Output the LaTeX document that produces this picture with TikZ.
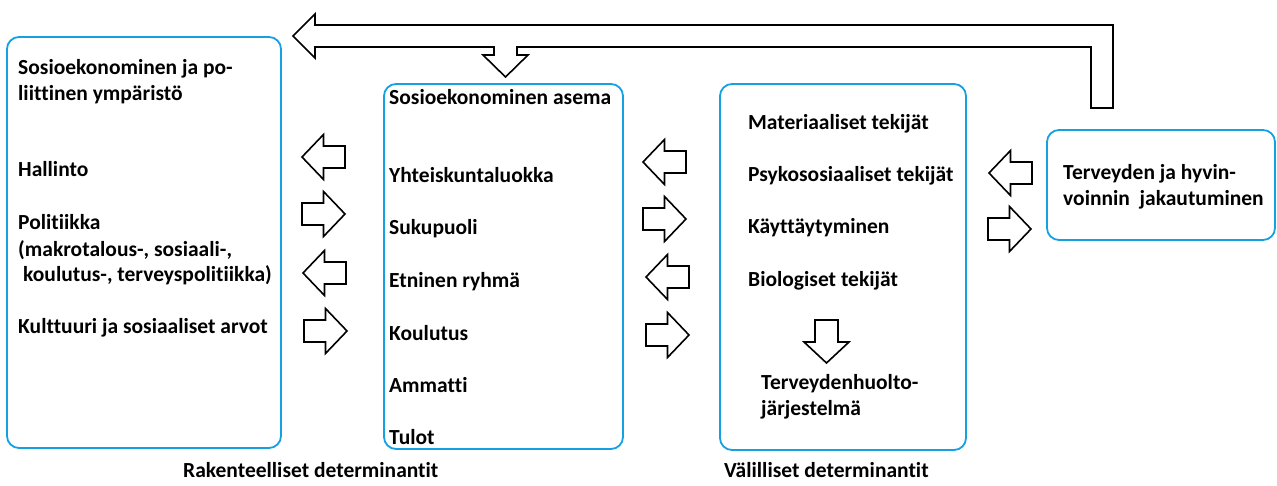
\documentclass[tikz,border=0pt]{standalone}
\usepackage{fontspec}
\setmainfont{Carlito}[RawFeature={-liga;-clig;-dlig}]
\definecolor{boxblue}{RGB}{20,160,225}
\begin{document}
\begin{tikzpicture}[x=1pt,y=-1pt,
  box/.style={draw=boxblue,line width=1.8pt,rounded corners=12pt,inner sep=0pt},
  txt/.style={anchor=base west,inner sep=0pt,font=\fontsize{21.5}{26}\selectfont\bfseries},
  blk/.style={draw=black,line width=1.6pt,fill=white,line join=miter},
  rarrow/.pic={\draw[blk] (0,-11) -- (21.5,-11) -- (21.5,-22.5) -- (43,0) -- (21.5,22.5) -- (21.5,11) -- (0,11) -- cycle;},
  larrow/.pic={\draw[blk] (0,0) -- (21.5,-22.5) -- (21.5,-11) -- (43,-11) -- (43,11) -- (21.5,11) -- (21.5,22.5) -- cycle;},
  darrow/.pic={\draw[blk] (-11.5,0) -- (11.5,0) -- (11.5,22) -- (22.5,22) -- (0,43) -- (-22.5,22) -- (-11.5,22) -- cycle;}
]
\useasboundingbox[fill=white] (0,0) rectangle (1277,486);

% boxes
\node[box,minimum width=274pt,minimum height=411pt] (b1) at (144,242.5) {};
\node[box,minimum width=239pt,minimum height=365pt] (b2) at (503.5,266.5) {};
\node[box,minimum width=246pt,minimum height=366pt] (b3) at (843,267) {};
\node[box,minimum width=228pt,minimum height=110pt] (b4) at (1161,185) {};

% big feedback arrow
\draw[blk] (293,36) -- (315,14) -- (315,25) -- (1113,25) -- (1113,108) -- (1091,108)
  -- (1091,47) -- (517,47) -- (517,55) -- (528,55) -- (505.5,77) -- (483,55)
  -- (494,55) -- (494,47) -- (315,47) -- (315,58) -- cycle;

% arrows between box1 and box2
\pic (a1) at (302,157) {larrow};
\pic (a2) at (302,214) {rarrow};
\pic (a3) at (303,273) {larrow};
\pic (a4) at (304,331) {rarrow};
% arrows between box2 and box3
\pic (c1) at (643,162) {larrow};
\pic (c2) at (643,219) {rarrow};
\pic (c3) at (646,277) {larrow};
\pic (c4) at (646,335) {rarrow};
% arrows between box3 and box4
\pic (e1) at (989,173) {larrow};
\pic (e2) at (988,229) {rarrow};
% arrow inside box3
\pic (d1) at (826.5,320) {darrow};

% box1 texts
\node[txt] (t11) at (18,75) {Sosioekonominen ja po-};
\node[txt] (t12) at (18,101) {liittinen ympäristö};
\node[txt] (t13) at (18,177) {Hallinto};
\node[txt] (t14) at (18,230) {Politiikka};
\node[txt] (t15) at (18,257) {(makrotalous-, sosiaali-,};
\node[txt] (t16) at (23,282) {koulutus-, terveyspolitiikka)};
\node[txt] (t17) at (18,334) {Kulttuuri ja sosiaaliset arvot};

% box2 texts
\node[txt] (t21) at (389,105) {Sosioekonominen asema};
\node[txt] (t22) at (389,183) {Yhteiskuntaluokka};
\node[txt] (t23) at (389,235) {Sukupuoli};
\node[txt] (t24) at (389,288) {Etninen ryhmä};
\node[txt] (t25) at (389,340) {Koulutus};
\node[txt] (t26) at (389,392) {Ammatti};
\node[txt] (t27) at (389,444) {Tulot};

% box3 texts
\node[txt] (t31) at (748,130) {Materiaaliset tekijät};
\node[txt] (t32) at (748,182) {Psykososiaaliset tekijät};
\node[txt] (t33) at (748,234) {Käyttäytyminen};
\node[txt] (t34) at (748,287) {Biologiset tekijät};
\node[txt] (t35) at (761,389) {Terveydenhuolto-};
\node[txt] (t36) at (761,415) {järjestelmä};

% box4 texts
\node[txt] (t41) at (1063,180) {Terveyden ja hyvin-};
\node[txt] (t42) at (1063,206) {voinnin\ \ jakautuminen};

% captions
\node[txt] (cap1) at (183,477) {Rakenteelliset determinantit};
\node[txt] (cap2) at (724,477) {Välilliset determinantit};
\end{tikzpicture}
\end{document}
